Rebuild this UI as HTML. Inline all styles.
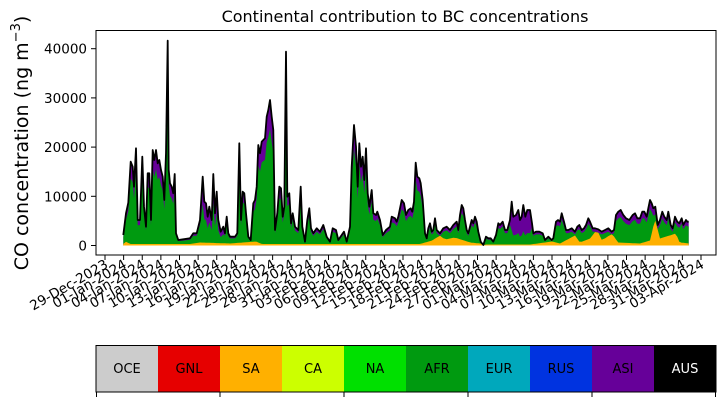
<!DOCTYPE html>
<html><head><meta charset="utf-8">
<style>
html,body{margin:0;padding:0;background:#fff;}
svg{display:block;font-family:"DejaVu Sans","Liberation Sans",sans-serif;}
</style></head>
<body>
<svg id="s" width="725" height="402" viewBox="0 0 725 402" xmlns="http://www.w3.org/2000/svg">
<text x="405" y="22" font-size="16" text-anchor="middle" fill="#000">Continental contribution to BC concentrations</text>
<g id="plot"></g>
<rect x="96" y="30.5" width="620" height="224.5" fill="none" stroke="#000" stroke-width="1"/>
<g font-size="13.5" fill="#000" text-anchor="end">
<line x1="91" y1="245.5" x2="96" y2="245.5" stroke="#000"/><text x="87" y="250.5">0</text>
<line x1="91" y1="196.3" x2="96" y2="196.3" stroke="#000"/><text x="87" y="201.3">10000</text>
<line x1="91" y1="147.1" x2="96" y2="147.1" stroke="#000"/><text x="87" y="152.1">20000</text>
<line x1="91" y1="97.9" x2="96" y2="97.9" stroke="#000"/><text x="87" y="102.9">30000</text>
<line x1="91" y1="48.7" x2="96" y2="48.7" stroke="#000"/><text x="87" y="53.7">40000</text>
</g>
<text transform="translate(28,143) rotate(-90)" font-size="19" text-anchor="middle" fill="#000">CO concentration (ng m<tspan dy="-8" font-size="13">−3</tspan><tspan dy="8">)</tspan></text>
<g id="xt" font-size="13.5" fill="#000"></g>
<g>
<rect x="96" y="345" width="62" height="47" fill="#cccccc"/>
<rect x="158" y="345" width="62" height="47" fill="#e60000"/>
<rect x="220" y="345" width="62" height="47" fill="#ffb000"/>
<rect x="282" y="345" width="62" height="47" fill="#ccff00"/>
<rect x="344" y="345" width="62" height="47" fill="#00e000"/>
<rect x="406" y="345" width="62" height="47" fill="#009a10"/>
<rect x="468" y="345" width="62" height="47" fill="#00a8bc"/>
<rect x="530" y="345" width="62" height="47" fill="#0033e0"/>
<rect x="592" y="345" width="62" height="47" fill="#660099"/>
<rect x="654" y="345" width="62" height="47" fill="#000000"/>
<rect x="96" y="345.5" width="620" height="46.5" fill="none" stroke="#000" stroke-width="1"/>
<g font-size="13" text-anchor="middle" fill="#000">
<text x="127" y="373">OCE</text><text x="189" y="373">GNL</text><text x="251" y="373">SA</text>
<text x="313" y="373">CA</text><text x="375" y="373">NA</text><text x="437" y="373">AFR</text>
<text x="499" y="373">EUR</text><text x="561" y="373">RUS</text><text x="623" y="373">ASI</text>
<text x="685" y="373" fill="#fff">AUS</text>
</g>
<g stroke="#000"><line x1="96.5" y1="392" x2="96.5" y2="397"/><line x1="220" y1="392" x2="220" y2="397"/><line x1="344" y1="392" x2="344" y2="397"/><line x1="468" y1="392" x2="468" y2="397"/><line x1="592" y1="392" x2="592" y2="397"/><line x1="715.5" y1="392" x2="715.5" y2="397"/></g>
</g>
</svg>
<script>
var NS="http://www.w3.org/2000/svg";
var z4=[[100,645],[108,580],[115,548],[122,425],[128,440],[132,500],[138,385],[143,600],[150,600],[157,410],[162,560],[168,620],[173,460],[178,460],[183,600],[188,390],[193,420],[198,390],[203,430],[208,420],[213,450],[218,470],[223,540],[228,400],[233,62],[236,450],[240,490],[245,500],[250,520],[254,462],[258,640],[265,660],[280,658],[300,655],[310,640],[320,640],[330,600],[338,470],[343,545],[348,550],[353,590],[358,560],[365,600],[370,462],[375,580],[380,515],[385,600],[392,635],[400,620],[405,640],[410,590],[415,640],[420,650],[435,650],[442,640],[448,370],[453,600],[458,515],[463,520],[468,580],[475,650],[482,660],[490,550],[495,540],[500,500],[505,375],[510,400],[515,365],[520,360],[525,355],[530,290],[535,270],[540,240],[545,290],[550,330],[555,630],[562,580],[568,500],[573,505],[578,590],[583,560],[588,95],[592,530],[598,520],[603,610],[608,580],[615,620],[625,630],[632,500],[637,620],[645,665],[652,600],[658,565],[663,625],[670,640],[680,625],[690,635],[700,615],[710,650],[720,665],[728,625],[738,630],[745,660],[755,645],[762,635],[770,665],[780,620],[785,440],[792,315],[798,380],[803,500],[808,370],[813,440],[818,410],[823,480],[828,385],[833,520],[838,560],[845,510],[850,580],[858,585],[862,575],[870,600],[878,645],[888,630],[900,620]];
var z5=[[35,200],[45,205],[50,215],[55,200],[65,150],[72,160],[78,195],[85,180],[92,175],[97,185],[102,155],[107,38],[112,80],[118,85],[122,100],[128,150],[135,250],[140,265],[145,235],[150,220],[155,245],[160,240],[165,205],[170,240],[180,250],[190,235],[200,230],[210,240],[220,225],[230,215],[235,240],[240,195],[245,165],[250,175],[255,210],[260,240],[265,250],[275,210],[280,220],[285,200],[290,215],[295,245],[302,275],[310,285],[318,260],[325,265],[332,265],[340,275],[348,255],[355,220],[360,225],[368,215],[375,240],[382,240],[390,210],[395,155],[400,200],[408,195],[415,180],[420,210],[425,200],[430,165],[436,200],[442,180],[450,180],[456,220],[460,250],[468,245],[478,245],[488,250],[495,270],[505,260],[515,270],[520,265],[528,215],[534,210],[540,215],[545,190],[552,215],[558,240],[565,240],[575,235],[585,245],[592,230],[598,225],[605,240],[612,235],[618,225],[625,205],[630,215],[638,235],[645,235],[655,238],[665,245],[675,240],[685,235],[695,245],[702,240],[708,195],[715,185],[722,180],[730,195],[738,205],[748,210],[758,195],[765,190],[772,205],[780,205],[787,185],[793,185],[800,200],[805,175],[810,150],[815,160],[820,175],[826,170],[833,225],[840,210],[847,185],[853,200],[860,210],[865,185],[872,225],[878,235],[885,200],[892,215],[898,220],[905,205],[910,225],[918,210],[922,215],[926,215]];
var B=245.5,pts=[];
z4.forEach(function(p){pts.push([90+p[0]/3,20+p[1]/3]);});
z5.forEach(function(p){pts.push([380+p[0]/3,150+p[1]/3]);});
var oc=[[124,5],[130,1.5],[190,1.5],[200,3],[230,2],[256,4],[262,1.5],[420,1.5],[432,5],[440,10],[445,6],[455,8],[470,3],[480,2],[485,1],[530,1],[552,4],[560,2],[575,10],[580,3],[590,7],[597,16],[602,5],[612,12],[618,3],[640,2],[650,5],[655,26],[660,7],[676,12],[680,2],[682,3],[689,2]];
function oh(x){for(var i=0;i<oc.length-1;i++){if(x>=oc[i][0]&&x<=oc[i+1][0]){var t=(x-oc[i][0])/(oc[i+1][0]-oc[i][0]);return oc[i][1]+t*(oc[i+1][1]-oc[i][1]);}}return 1.5;}
function gf(x){if(x>511&&x<532)return 0.35;if(x>200&&x<225)return 0.6;return 0.8;}
var x0=pts[0][0],x1=pts[pts.length-1][0];
function area(arr,col){var d="M"+x0+","+B;arr.forEach(function(p){d+="L"+p[0].toFixed(1)+","+p[1].toFixed(1);});d+="L"+x1+","+B+"Z";var e=document.createElementNS(NS,"path");e.setAttribute("d",d);e.setAttribute("fill",col);document.getElementById("plot").appendChild(e);}
var tot=pts, grn=[], org=[];
pts.forEach(function(p){var h=B-p[1];var g=h*gf(p[0]);grn.push([p[0],B-g]);org.push([p[0],B-Math.min(oh(p[0]),g)]);});
area(tot,"#660099");area(grn,"#009a10");area(org,"#ffb000");
var d="";tot.forEach(function(p,i){d+=(i?"L":"M")+p[0].toFixed(1)+","+p[1].toFixed(1);});
var l=document.createElementNS(NS,"path");l.setAttribute("d",d);l.setAttribute("fill","none");l.setAttribute("stroke","#000");l.setAttribute("stroke-width","1.8");l.setAttribute("stroke-linejoin","round");document.getElementById("plot").appendChild(l);
var labs=["29-Dec-2023"],mons=[["Jan",[1,4,7,10,13,16,19,22,25,28,31]],["Feb",[3,6,9,12,15,18,21,24,27]],["Mar",[1,4,7,10,13,16,19,22,25,28,31]],["Apr",[3]]];
mons.forEach(function(m){m[1].forEach(function(dd){labs.push((dd<10?"0":"")+dd+"-"+m[0]+"-2024");});});
var xt=document.getElementById("xt");
labs.forEach(function(s,i){var x=105+i*18.625;var ln=document.createElementNS(NS,"line");ln.setAttribute("x1",x);ln.setAttribute("x2",x);ln.setAttribute("y1",255);ln.setAttribute("y2",260);ln.setAttribute("stroke","#000");xt.appendChild(ln);
var t=document.createElementNS(NS,"text");t.setAttribute("transform","translate("+(x+4)+",267) rotate(-30)");t.setAttribute("text-anchor","end");t.textContent=s;xt.appendChild(t);});
</script>
</body></html>
